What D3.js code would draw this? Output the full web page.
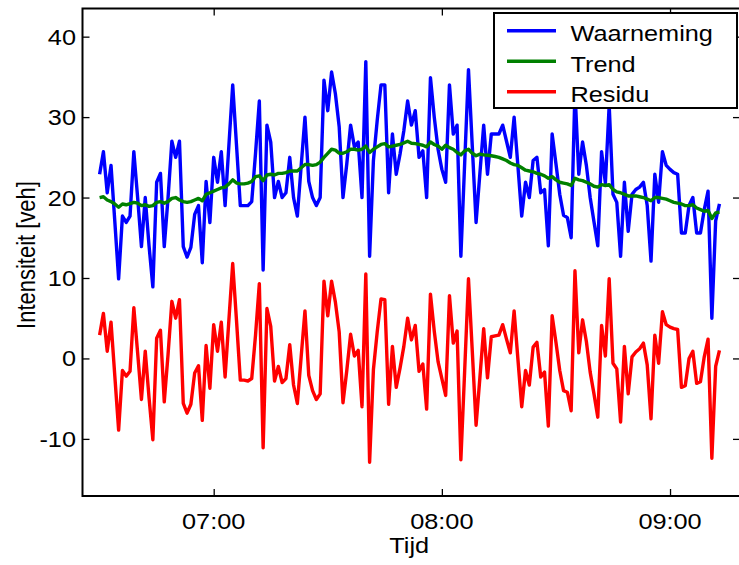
<!DOCTYPE html>
<html>
<head>
<meta charset="utf-8">
<script src="https://cdn.jsdelivr.net/npm/d3@7/dist/d3.min.js"></script>
<style>
  html, body { margin: 0; padding: 0; background: #fff; }
  svg { display: block; font-family: "Liberation Sans", Arial, sans-serif; }
</style>
</head>
<body>
<svg id="chart" width="739" height="565"></svg>
<script>
// one value per minute, starting at 06:30
const startTime = '06:30';

const waarneming = [
  22.9, 25.7, 20.6, 24.0, 17.0, 9.9, 17.7, 16.9, 17.7, 25.7,
  20.0, 13.9, 20.0, 14.0, 8.9, 21.9, 23.0, 13.9, 20.0, 27.0,
  25.0, 27.0, 13.9, 12.6, 13.8, 17.9, 19.0, 11.9, 22.0, 16.9,
  25.0, 21.9, 25.7, 19.0, 26.5, 34.0, 26.5, 19.0, 19.0, 19.0,
  19.5, 25.5, 32.0, 11.0, 29.0, 26.9, 20.0, 22.0, 20.0, 20.6,
  25.0, 20.0, 17.7, 23.9, 30.0, 22.0, 20.0, 19.0, 20.0, 34.6,
  30.8, 35.6, 32.9, 28.8, 20.0, 24.2, 29.0, 26.3, 26.9, 20.0,
  36.9, 12.7, 24.6, 29.6, 34.0, 34.0, 20.6, 27.9, 22.9, 25.4,
  28.3, 32.0, 29.0, 30.8, 25.0, 25.8, 20.0, 34.9, 30.0, 26.0,
  23.5, 21.9, 34.0, 27.9, 29.0, 12.7, 24.3, 35.9, 26.4, 16.9,
  23.0, 29.0, 22.9, 27.9, 27.9, 27.9, 29.0, 27.0, 25.0, 30.0,
  23.9, 17.7, 21.9, 20.0, 24.6, 25.0, 20.6, 21.0, 14.0, 27.9,
  24.2, 20.4, 17.8, 17.5, 15.0, 33.3, 22.9, 26.9, 24.0, 20.0,
  17.0, 14.0, 25.7, 21.8, 31.5, 20.4, 19.4, 12.7, 21.9, 15.8,
  20.4, 21.0, 21.3, 21.9, 19.0, 12.1, 22.9, 19.4, 25.7, 24.0,
  23.5, 23.1, 22.9, 15.6, 15.6, 19.0, 20.0, 15.6, 15.6, 18.5,
  20.8, 5.0, 17.1, 19.2
];

const trend = [
  20.0, 20.1, 19.7, 19.5, 19.2, 18.8, 19.2, 19.1, 19.25, 19.4,
  19.3, 19.0, 19.1, 18.9, 19.0, 19.4, 19.5, 19.3, 19.5, 19.9,
  20.0, 19.7, 19.5, 19.4, 19.5, 19.7, 19.9, 19.6, 20.4, 20.6,
  20.8, 21.0, 21.2, 21.3, 21.7, 22.2, 21.8, 21.7, 21.7, 21.8,
  22.0, 22.6, 22.7, 22.1, 22.8, 22.9, 22.8, 23.0, 23.0, 23.1,
  23.3, 23.3, 23.3, 23.7, 24.1, 24.1, 24.0, 24.1, 24.4, 25.0,
  25.5, 26.0, 25.9, 25.5, 25.5, 25.7, 26.0, 26.0, 25.9, 26.0,
  26.4, 25.6, 26.0, 26.3, 26.6, 26.7, 26.3, 26.4, 26.5, 26.6,
  26.8, 27.0, 26.75, 26.7, 26.6, 26.5, 26.3, 26.9, 26.6, 26.4,
  26.0, 26.5, 26.2, 26.0, 25.6, 25.3, 25.8, 26.0, 25.5, 25.2,
  25.4, 25.3, 25.25, 25.2, 25.1, 25.0, 24.8, 24.6, 24.3, 24.1,
  24.0, 23.7, 23.4, 23.3, 23.2, 23.0, 22.9, 22.7, 22.4, 22.6,
  22.2, 21.9, 21.8, 21.7, 21.5, 22.4, 22.2, 22.1, 21.9, 21.7,
  21.4, 21.3, 21.6, 21.5, 21.6, 21.0, 20.7, 20.6, 20.4, 20.2,
  20.2, 20.2, 20.1, 20.0, 19.8, 19.6, 20.0, 20.0, 19.9, 19.8,
  19.6, 19.4, 19.3, 19.2, 19.0, 19.0, 19.1, 18.7, 18.5, 18.3,
  18.4, 17.4, 18.1, 18.2
];

const residu = [
  2.9, 5.6, 0.9, 4.5, -2.2, -8.9, -1.5, -2.2, -1.6, 6.3,
  0.7, -5.1, 0.9, -4.9, -10.1, 2.5, 3.5, -5.4, 0.5, 7.1,
  5.0, 7.3, -5.6, -6.8, -5.7, -1.8, -0.9, -7.7, 1.6, -3.7,
  4.2, 0.9, 4.5, -2.3, 4.8, 11.8, 4.7, -2.7, -2.7, -2.8,
  -2.5, 2.9, 9.3, -11.1, 6.2, 4.0, -2.8, -1.0, -3.0, -2.5,
  1.7, -3.3, -5.6, 0.2, 5.9, -2.1, -4.0, -5.1, -4.4, 9.6,
  5.3, 9.6, 7.0, 3.3, -5.5, -1.5, 3.0, 0.3, 1.0, -6.0,
  10.5, -12.9, -1.4, 3.3, 7.4, 7.3, -5.7, 1.5, -3.6, -1.2,
  1.5, 5.0, 2.3, 4.1, -1.6, -0.7, -6.3, 8.0, 3.4, -0.4,
  -2.5, -4.6, 7.8, 1.9, 3.4, -12.6, -1.5, 9.9, 0.9, -8.3,
  -2.4, 3.7, -2.4, 2.7, 2.8, 2.9, 4.2, 2.4, 0.7, 5.9,
  -0.1, -6.0, -1.5, -3.3, 1.4, 2.0, -2.3, -1.7, -8.4, 5.3,
  2.0, -1.5, -4.0, -4.2, -6.5, 10.9, 0.7, 4.8, 2.1, -1.7,
  -4.4, -7.3, 4.1, 0.3, 9.9, -0.6, -1.3, -7.9, 1.5, -4.4,
  0.2, 0.8, 1.2, 1.9, -0.8, -7.5, 2.9, -0.6, 5.8, 4.2,
  3.9, 3.7, 3.6, -3.6, -3.4, 0.0, 0.9, -3.1, -2.9, 0.2,
  2.4, -12.4, -1.0, 1.0
];

const yTicks = [-10, 0, 10, 20, 30, 40];
const xTickLabels = ['07:00', '08:00', '09:00'];
const seriesNames = ['Waarneming', 'Trend', 'Residu'];
const seriesColors = ['#0000ff', '#008000', '#ff0000'];

const plot = { left: 82.5, right: 740, top: 8.5, bottom: 496 };
const stretch = 1.15; // the picture's text is a bit wider than the font

const parse = d3.timeParse('%H:%M');
const t0 = parse(startTime);
const times = waarneming.map((d, i) => d3.timeMinute.offset(t0, i));

const x = d3.scaleTime()
  .domain([d3.timeSecond.offset(t0, -270), d3.timeSecond.offset(t0, 10104)])
  .range([plot.left, plot.right]);

const y = d3.scaleLinear()
  .domain([-17.1, 43.5])
  .range([plot.bottom, plot.top]);

const svg = d3.select('#chart');

svg.append('defs')
  .append('clipPath')
  .attr('id', 'plot-clip')
  .append('rect')
  .attr('x', plot.left)
  .attr('y', plot.top)
  .attr('width', plot.right - plot.left)
  .attr('height', plot.bottom - plot.top);

function label(sel, text, px, py, anchor) {
  return sel.append('text')
    .attr('transform', `translate(${px},${py}) scale(${stretch},1)`)
    .attr('text-anchor', anchor)
    .attr('font-size', 22)
    .attr('fill', '#000')
    .text(text);
}

// series
const line = d3.line()
  .x((d, i) => x(times[i]))
  .y((d) => y(d));

const lines = svg.append('g').attr('clip-path', 'url(#plot-clip)');
[waarneming, trend, residu].forEach((values, k) => {
  lines.append('path')
    .datum(values)
    .attr('fill', 'none')
    .attr('stroke', seriesColors[k])
    .attr('stroke-width', 3.4)
    .attr('stroke-linejoin', 'round')
    .attr('d', line);
});

// axes: ticks point inward like the original
const xTickTimes = xTickLabels.map((s) => parse(s));
const axes = svg.append('g');

axes.append('g')
  .attr('transform', `translate(0,${plot.bottom})`)
  .call(d3.axisBottom(x).tickValues(xTickTimes).tickSize(-7).tickFormat(''))
  .call((g) => g.select('.domain').remove());
axes.append('g')
  .attr('transform', `translate(0,${plot.top})`)
  .call(d3.axisTop(x).tickValues(xTickTimes).tickSize(-7).tickFormat(''))
  .call((g) => g.select('.domain').remove());
axes.append('g')
  .attr('transform', `translate(${plot.left},0)`)
  .call(d3.axisLeft(y).tickValues(yTicks).tickSize(-7).tickFormat(''))
  .call((g) => g.select('.domain').remove());
axes.append('g')
  .attr('transform', `translate(${plot.right},0)`)
  .call(d3.axisRight(y).tickValues(yTicks).tickSize(-7).tickFormat(''))
  .call((g) => g.select('.domain').remove());
axes.selectAll('.tick line').attr('stroke', '#000').attr('stroke-width', 1.3);

axes.append('rect')
  .attr('x', plot.left)
  .attr('y', plot.top)
  .attr('width', plot.right - plot.left)
  .attr('height', plot.bottom - plot.top)
  .attr('fill', 'none')
  .attr('stroke', '#000')
  .attr('stroke-width', 2);

// tick labels, plain hyphen for negatives as in the picture
yTicks.forEach((v) => label(svg, String(v), 76, y(v) + 8, 'end'));
xTickTimes.forEach((t, i) => label(svg, xTickLabels[i], x(t), 529, 'middle'));

// axis titles
label(svg, 'Tijd', (plot.left + plot.right) / 2 - 2, 553, 'middle');
svg.append('text')
  .attr('transform', `translate(35,255) rotate(-90) scale(1,${stretch})`)
  .attr('text-anchor', 'middle')
  .attr('font-size', 22)
  .text('Intensiteit [veh]');

// legend
const legend = svg.append('g');
legend.append('rect')
  .attr('x', 494)
  .attr('y', 13)
  .attr('width', 243)
  .attr('height', 95)
  .attr('fill', '#fff')
  .attr('stroke', '#000')
  .attr('stroke-width', 2);
seriesNames.forEach((name, k) => {
  const ly = 30.7 + k * 30.5;
  legend.append('line')
    .attr('x1', 507).attr('x2', 556)
    .attr('y1', ly).attr('y2', ly)
    .attr('stroke', seriesColors[k])
    .attr('stroke-width', 3.4);
  label(legend, name, 570.5, ly + 10.5, 'start');
});
</script>
</body>
</html>
